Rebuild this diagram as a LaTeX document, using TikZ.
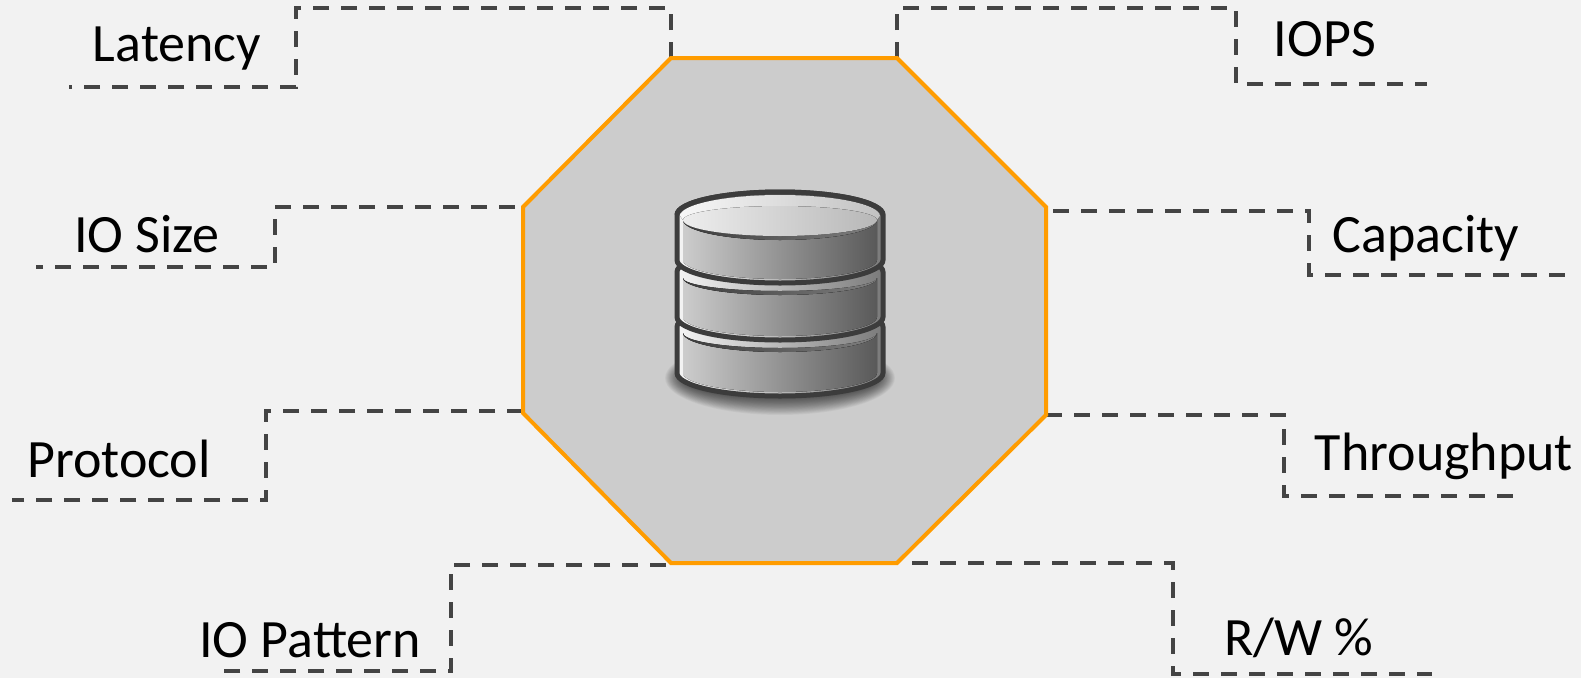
\documentclass[tikz,border=0pt]{standalone}
\usepackage{fontspec}
\usepackage{xcolor}
\setmainfont{Carlito}
\usetikzlibrary{calc}
\definecolor{pagebg}{HTML}{F2F2F2}
\definecolor{octfill}{HTML}{CCCCCC}
\definecolor{octline}{HTML}{FF9C00}
\definecolor{linkgray}{HTML}{444444}
\definecolor{diskline}{HTML}{3C3C3C}

% #1 top of the side, #2 bottom of the side, #3 ends of the crescent, #4 its depth
\newcommand{\dbdisk}[4]{%
  \fill[left color=black!4, middle color=black!20, right color=black!52]
    (677,#1) arc[start angle=180,end angle=360,x radius=103,y radius=23] -- (883,#2)
    arc[start angle=0,end angle=180,x radius=103,y radius=23] -- cycle;
  \fill[left color=black!20, middle color=black!40, right color=black!65]
    (683,#3) arc[start angle=180,end angle=0,x radius=97,y radius=#4] -- (877,#2)
    arc[start angle=0,end angle=180,x radius=97,y radius=19] -- cycle;
  \fill[left color=diskline, middle color=black!65, right color=black!50]
    (683,#3) arc[start angle=180,end angle=0,x radius=97,y radius=#4]
    arc[start angle=0,end angle=180,x radius=97,y radius=#4-4] -- cycle;
  \draw[diskline, line width=5pt]
    (677,#1) arc[start angle=180,end angle=360,x radius=103,y radius=23] -- (883,#2)
    arc[start angle=0,end angle=180,x radius=103,y radius=23] -- cycle;
}

\begin{document}
\begin{tikzpicture}[
  x=1pt, y=-1pt,
  link/.style={draw=linkgray, line width=4pt, dash pattern=on 16pt off 12pt},
  tag/.style={font=\fontsize{54pt}{56pt}\selectfont, text=black, inner sep=0pt}
]
\useasboundingbox[fill=pagebg] (0,0) rectangle (1581,678);

% octagon corners
\coordinate (octA) at (671,58);
\coordinate (octB) at (897,58);
\coordinate (octC) at (1046,207);
\coordinate (octD) at (1046,415);
\coordinate (octE) at (897,563);
\coordinate (octF) at (671,563);
\coordinate (octG) at (523,413);
\coordinate (octH) at (523,207);

% labels
\node[tag] (latency) at (177,49) {Latency};
\node[tag] (iops) at (1325,39) {IOPS};
\node[tag] (iosize) at (147,234) {IO Size};
\node[tag] (capacity) at (1426,238) {Capacity};
\node[tag] (protocol) at (119,459) {Protocol};
\node[tag] (throughput) at (1444,456) {Throughput};
\node[tag] (iopattern) at (310,640) {IO Pattern};
\node[tag] (rwpct) at (1299,638) {R/W \%};

% free ends of the dashed lines
\coordinate (latencyA) at (296,8);
\coordinate (latencyB) at (69,87);
\coordinate (iopsA) at (1236,8);
\coordinate (iopsB) at (1427,84);
\coordinate (iosizeA) at (275,267);
\coordinate (iosizeB) at (36,267);
\coordinate (capacityA) at (1309,275);
\coordinate (capacityB) at (1565,275);
\coordinate (protocolA) at (266,500);
\coordinate (protocolB) at (12,500);
\coordinate (throughputA) at (1284,496);
\coordinate (throughputB) at (1515,496);
\coordinate (iopatternA) at (451,671);
\coordinate (iopatternB) at (224,671);
\coordinate (rwpctA) at (1173,674);
\coordinate (rwpctB) at (1432,674);

\draw[link] (octA) |- (latencyA) |- (latencyB);
\draw[link] (octB) |- (iopsA) |- (iopsB);
\draw[link, dash phase=20pt] (octH) -| (iosizeA) -- (iosizeB);
\draw[link, dash phase=21pt] ($(octC)+(0,4)$) -| (capacityA) -- (capacityB);
\draw[link] ($(octG)+(0,-2)$) -| (protocolA) -- (protocolB);
\draw[link] (octD) -| (throughputA) -- (throughputB);
\draw[link, dash phase=18pt] ($(octF)+(5,2)$) -| (iopatternA) -- (iopatternB);
\draw[link] ($(octE)+(15,0)$) -| (rwpctA) -- (rwpctB);

\draw[fill=octfill, draw=octline, line width=4pt, line join=miter]
  (octA) -- (octB) -- (octC) -- (octD) -- (octE) -- (octF) -- (octG) -- (octH) -- cycle;

% shadow below the disks
\foreach \r in {0,1,...,31}
  \fill[black, opacity=0.035] (780,378) ellipse[x radius=115-0.8*\r, y radius=37-0.8*\r];

% disks, bottom one first
\dbdisk{327}{373}{333}{19}
\dbdisk{272}{317}{278}{17}
\dbdisk{215}{260}{220}{20}

% top of the stack
\fill[left color=black!3, middle color=black!8, right color=black!24]
  (680,216) arc[start angle=180,end angle=360,x radius=100,y radius=21]
  -- (877,220) arc[start angle=0,end angle=180,x radius=97,y radius=16] -- cycle;
\fill[left color=black!7, middle color=black!13, right color=black!28]
  (683,220) arc[start angle=180,end angle=0,x radius=97,y radius=16]
  arc[start angle=0,end angle=-180,x radius=97,y radius=14] -- cycle;
\draw[diskline, line width=5pt]
  (677,215) arc[start angle=180,end angle=360,x radius=103,y radius=23];

\end{tikzpicture}
\end{document}
